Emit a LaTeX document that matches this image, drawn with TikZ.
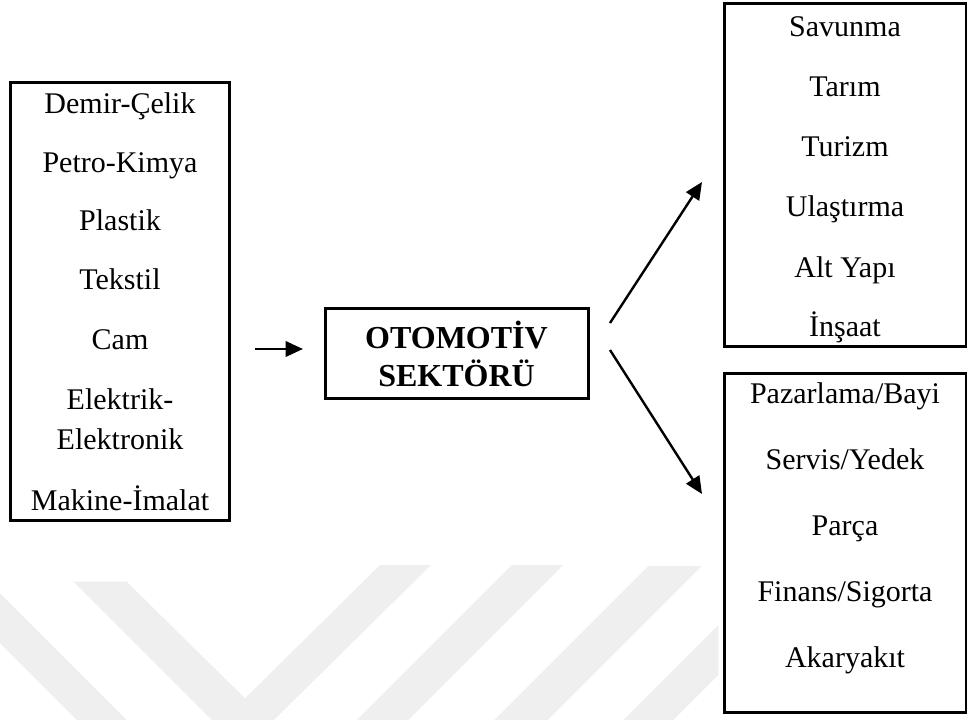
\documentclass[tikz,border=0pt]{standalone}
\usepackage{fontspec}
\setmainfont{Liberation Serif}
\usetikzlibrary{arrows.meta}
\definecolor{wm}{RGB}{239,239,239}
\begin{document}
\begin{tikzpicture}[x=0.75pt,y=-0.75pt,
  box/.style={draw=black, line width=2.25pt, fill=white, inner sep=0pt},
  item/.style={anchor=base, inner sep=0pt, font=\fontsize{22.5}{26}\selectfont},
  title/.style={anchor=base, inner sep=0pt, font=\fontsize{24}{28}\selectfont\bfseries},
  arr/.style={line width=1.8pt, -{Triangle[length=13pt,width=11.5pt]}},
  wmark/.style={fill=wm, draw=none}]
\useasboundingbox (0,0) rectangle (967,720);
\begin{scope}
\clip (0,0) rectangle (967,720);
% watermark
\fill[wmark] (-50,543.3) -- (126.7,720) -- (76.7,720) -- (-50,593.3) -- cycle;
\fill[wmark] (73.3,581.7) -- (126.7,581.7) -- (245,698.3) -- (380,565) -- (431,565) -- (242.5,751) -- cycle;
\fill[wmark] (511.7,565) -- (563.3,565) -- (408.3,720) -- (356.7,720) -- cycle;
\fill[wmark] (648.3,566) -- (701.7,566) -- (547.7,720) -- (494.3,720) -- cycle;
\fill[wmark] (623.3,720) -- (718.3,625) -- (718.3,675) -- (673.3,720) -- cycle;
% boxes
\node[box, minimum width=164.6pt, minimum height=327.75pt] (left) at (119.75,301.5) {};
\node[box, minimum width=197.25pt, minimum height=67.5pt] (center) at (456.5,353) {};
\node[box, minimum width=181.5pt, minimum height=257.6pt] (top) at (845,174.75) {};
\node[box, minimum width=181.5pt, minimum height=254.25pt] (bottom) at (845,542.5) {};
\end{scope}
% left texts
\node[item] (l1) at (120,114) {Demir-Çelik};
\node[item] (l2) at (120,173) {Petro-Kimya};
\node[item] (l3) at (120,231) {Plastik};
\node[item] (l4) at (120,290) {Tekstil};
\node[item] (l5) at (120,349) {Cam};
\node[item] (l6) at (120,409) {Elektrik-};
\node[item] (l7) at (120,449) {Elektronik};
\node[item] (l8) at (120,510) {Makine-İmalat};
% center texts
\node[title] (c1) at (456.5,348) {OTOMOTİV};
\node[title] (c2) at (456.5,386) {SEKTÖRÜ};
% top right texts
\node[item] (t1) at (845,37) {Savunma};
\node[item] (t2) at (845,97) {Tarım};
\node[item] (t3) at (845,157) {Turizm};
\node[item] (t4) at (845,217) {Ulaştırma};
\node[item] (t5) at (845,277) {Alt Yapı};
\node[item] (t6) at (845,336) {İnşaat};
% bottom right texts
\node[item] (b1) at (845,403) {Pazarlama/Bayi};
\node[item] (b2) at (845,469) {Servis/Yedek};
\node[item] (b3) at (845,535) {Parça};
\node[item] (b4) at (845,601) {Finans/Sigorta};
\node[item] (b5) at (845,667) {Akaryakıt};
% arrows
\coordinate (in0) at (255,349);
\coordinate (in1) at (303,349);
\coordinate (up0) at (610,323);
\coordinate (up1) at (702,182);
\coordinate (dn0) at (610,350);
\coordinate (dn1) at (702,494);
\draw[arr] (in0) -- (in1);
\draw[arr] (up0) -- (up1);
\draw[arr] (dn0) -- (dn1);
\end{tikzpicture}
\end{document}
